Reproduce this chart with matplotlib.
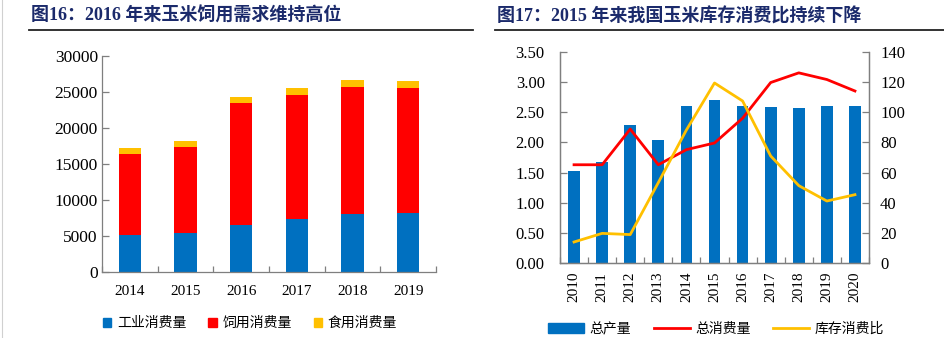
import matplotlib
matplotlib.use("Agg")
import matplotlib.pyplot as plt
from matplotlib.patches import Patch
from matplotlib.lines import Line2D
from matplotlib.ticker import FixedLocator, FuncFormatter
import numpy as np

plt.rcParams['font.family'] = ['Liberation Serif', 'Noto Sans CJK SC', 'DejaVu Sans']

# ---- Fig.16: corn consumption by use (10k tonnes) ----
years_left = ["2014", "2015", "2016", "2017", "2018", "2019"]
industrial = [5200, 5400, 6560, 7400, 8050, 8200]
feed = [11250, 12020, 16880, 17230, 17610, 17360]
food = [790, 830, 870, 930, 970, 970]
left_yticks = [0, 5000, 10000, 15000, 20000, 25000, 30000]

# ---- Fig.17: production, consumption, stock-to-use ratio ----
years_right = ["2010", "2011", "2012", "2013", "2014", "2015",
               "2016", "2017", "2018", "2019", "2020"]
production = [1.53, 1.68, 2.28, 2.04, 2.60, 2.70, 2.61, 2.58, 2.57, 2.61, 2.60]
consumption = [1.63, 1.63, 2.22, 1.63, 1.88, 1.99, 2.40, 2.99, 3.15, 3.04, 2.85]
stock_ratio = [14.1, 19.8, 19.0, 53.4, 88.2, 119.3, 107.4, 71.0, 51.4, 41.2, 45.4]
right_yticks_l = [0.0, 0.5, 1.0, 1.5, 2.0, 2.5, 3.0, 3.5]
right_yticks_r = [0, 20, 40, 60, 80, 100, 120, 140]

BLUE = "#0070C0"
RED = "#FF0000"
YELLOW = "#FFC000"
NAVY = "#1B2A6B"
SPINE = "#7F7F7F"
CJK = ['Noto Sans CJK SC', 'DejaVu Sans']
TITLE_FONT = ['Liberation Serif', 'Noto Sans CJK SC', 'DejaVu Sans']

W, H = 945, 338
fig = plt.figure(figsize=(W / 100, H / 100), dpi=100)


def px(x0, y0, x1, y1):
    return [x0 / W, 1 - y1 / H, (x1 - x0) / W, (y1 - y0) / H]


def style_axis(ax, n, right=False):
    for s in ["top"] + ([] if right else ["right"]):
        ax.spines[s].set_visible(False)
    for s in ax.spines.values():
        s.set_color(SPINE)
        s.set_linewidth(0.9)
    ax.set_xlim(-0.5, n - 0.5)
    ax.xaxis.set_major_locator(FixedLocator(np.arange(n)))
    ax.xaxis.set_minor_locator(FixedLocator(np.arange(n + 1) - 0.5))
    ax.tick_params(axis="x", which="major", length=0)
    ax.tick_params(axis="x", which="minor", direction="in", length=4,
                   color=SPINE, width=0.9)
    ax.tick_params(axis="y", direction="in", length=5, color=SPINE,
                   width=0.9)


def fitted_title(x0, x1, y, s):
    """Place a bold title spanning roughly x0..x1 pixels."""
    t = fig.text(x0 / W, 1 - y / H, s, family=TITLE_FONT, fontsize=14,
                 fontweight="bold", color=NAVY, va="center", ha="left")
    r = fig.canvas.get_renderer()
    w = t.get_window_extent(r).width
    t.set_fontsize(14 * (x1 - x0) / w)
    return t


# titles and rules
fitted_title(31, 343, 16, "图16：2016 年来玉米饲用需求维持高位")
fitted_title(497, 863, 16, "图17：2015 年来我国玉米库存消费比持续下降")
fig.add_artist(Line2D([29 / W, 473 / W], [1 - 29.5 / H] * 2,
                      color="#222222", lw=1.3))
fig.add_artist(Line2D([495 / W, 945 / W], [1 - 29.5 / H] * 2,
                      color="#222222", lw=1.3))
fig.add_artist(Line2D([2 / W, 2 / W], [0, 1], color="#D0D0D0", lw=0.8))

# ---- left chart ----
ax1 = fig.add_axes(px(102, 56, 436, 272.3))
x1 = np.arange(len(years_left))
ind = np.array(industrial)
fd = np.array(feed)
fo = np.array(food)
bw = 0.4
ax1.bar(x1, ind, bw, color=BLUE, label="工业消费量")
ax1.bar(x1, fd, bw, bottom=ind, color=RED, label="饲用消费量")
ax1.bar(x1, fo, bw, bottom=ind + fd, color=YELLOW, label="食用消费量")
style_axis(ax1, len(years_left))
ax1.set_ylim(0, 30000)
ax1.set_yticks(left_yticks)
ax1.tick_params(axis="y", labelsize=12.5, pad=3)
ax1.set_xticklabels(years_left, fontsize=11)
ax1.tick_params(axis="x", which="major", pad=9)

handles1 = [Patch(color=BLUE), Patch(color=RED), Patch(color=YELLOW)]
fig.legend(handles1, ["工业消费量", "饲用消费量", "食用消费量"],
           loc="center", bbox_to_anchor=(250 / W, 1 - 323 / H), ncol=3,
           frameon=False, handlelength=0.6, handleheight=0.6,
           handletextpad=0.4, columnspacing=1.6,
           prop={"family": CJK, "size": 10})

# ---- right chart ----
ax2 = fig.add_axes(px(560, 51.7, 869, 263.3))
x2 = np.arange(len(years_right))
ax2.bar(x2, production, 0.42, color=BLUE, zorder=2)
ax2.plot(x2, consumption, color=RED, lw=2.0, zorder=3)
style_axis(ax2, len(years_right), right=True)
ax2.set_ylim(0, 3.5)
ax2.set_yticks(right_yticks_l)
ax2.tick_params(axis="y", labelsize=12, pad=11)
ax2.yaxis.set_major_formatter(FuncFormatter(lambda v, p: f"{v:.2f}"))
ax2.set_xticklabels(years_right, rotation=90, fontsize=11)
ax2.tick_params(axis="x", which="major", pad=6)

ax3 = ax2.twinx()
ax3.plot(x2, stock_ratio, color=YELLOW, lw=2.0, zorder=3)
ax3.set_ylim(0, 140)
ax3.set_yticks(right_yticks_r)
for s in ax3.spines.values():
    s.set_color(SPINE)
    s.set_linewidth(0.9)
ax3.spines["top"].set_visible(False)
ax3.tick_params(axis="y", direction="in", length=5, color=SPINE,
                width=0.9, labelsize=12, pad=8)

handles2 = [Patch(color=BLUE),
            Line2D([], [], color=RED, lw=2),
            Line2D([], [], color=YELLOW, lw=2)]
fig.legend(handles2, ["总产量", "总消费量", "库存消费比"],
           loc="center", bbox_to_anchor=(716 / W, 1 - 329 / H), ncol=3,
           frameon=False, handlelength=2.6, handleheight=0.7,
           handletextpad=0.4, columnspacing=1.6,
           prop={"family": CJK, "size": 10})

fig.savefig("out.png", dpi=100)
